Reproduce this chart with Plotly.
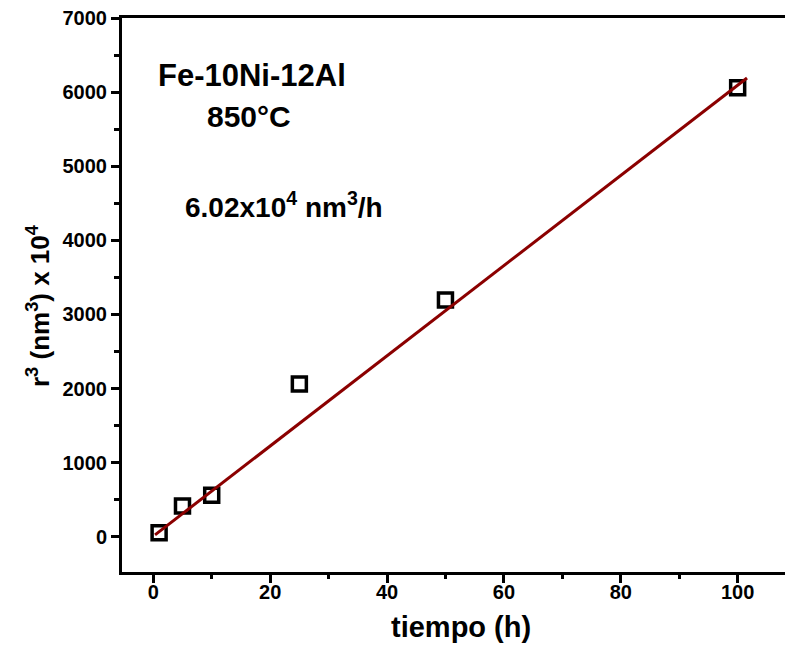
import plotly.graph_objects as go

# data
tiempo_h = [1, 5, 10, 25, 50, 100]
r3_values = [55, 415, 560, 2060, 3195, 6060]
fit_x = [0.3, 101.6]
fit_y = [25, 6190]
x_ticks = [0, 20, 40, 60, 80, 100]
y_ticks = [0, 1000, 2000, 3000, 4000, 5000, 6000, 7000]

FONT = "Liberation Sans, Arial, sans-serif"
W, H = 785, 645
L, R, T, B = 122, 0, 18, 73

fig = go.Figure()
fig.add_trace(go.Scatter(
    x=tiempo_h, y=r3_values, mode="markers",
    marker=dict(symbol="square-open", size=14, color="black", line=dict(width=3.5, color="black")),
    showlegend=False,
))
fig.add_trace(go.Scatter(
    x=fit_x, y=fit_y, mode="lines",
    line=dict(color="#8b0000", width=3), showlegend=False,
))

fig.update_layout(
    width=W, height=H,
    margin=dict(l=L, r=R, t=T, b=B, autoexpand=False),
    paper_bgcolor="white", plot_bgcolor="white",
    font=dict(family=FONT, color="black", size=19),
)
fig.update_xaxes(
    range=[-5.35, 108.1], showgrid=False, zeroline=False, automargin=False,
    showline=True, linecolor="black", linewidth=3, mirror=True,
    tickmode="array", tickvals=x_ticks, ticktext=[f"<b>{v}</b>" for v in x_ticks],
    ticks="outside", ticklen=8, tickwidth=3, tickcolor="black",
    tickfont=dict(size=20, family=FONT, color="black"), ticklabelstandoff=-8,
    minor=dict(dtick=10, tick0=0, ticks="outside", ticklen=4, tickwidth=3, tickcolor="black"),
)
fig.update_yaxes(
    range=[-476, 7000], showgrid=False, zeroline=False, automargin=False,
    showline=True, linecolor="black", linewidth=3, mirror=False,
    tickmode="array", tickvals=y_ticks, ticktext=[f"<b>{v}</b>" for v in y_ticks],
    ticks="outside", ticklen=8, tickwidth=3, tickcolor="black",
    tickfont=dict(size=20, family=FONT, color="black"),
    minor=dict(dtick=500, tick0=0, ticks="outside", ticklen=5, tickwidth=3, tickcolor="black"),
)

pw, ph = W - L - R, H - T - B

def px_x(p):
    return (p - L) / pw

def px_y(p):
    return (H - B - p) / ph

# axis titles
fig.add_annotation(x=px_x(461), xref="paper", y=px_y(627), yref="paper",
                   text="<b>tiempo (h)</b>", showarrow=False,
                   font=dict(size=29, family=FONT, color="black"), xanchor="center", yanchor="middle")
fig.add_annotation(x=px_x(38), xref="paper", y=px_y(306), yref="paper",
                   text="<b>r<sup>3</sup> (nm<sup>3</sup>) x 10<sup>4</sup></b>", showarrow=False,
                   textangle=-90, font=dict(size=26, family=FONT, color="black"),
                   xanchor="center", yanchor="middle")

ann_font = dict(size=31, family=FONT, color="black")
fig.add_annotation(x=px_x(252), xref="paper", y=px_y(75), yref="paper", text="<b>Fe-10Ni-12Al</b>",
                   showarrow=False, font=ann_font, xanchor="center", yanchor="middle")
fig.add_annotation(x=px_x(249), xref="paper", y=px_y(117), yref="paper", text="<b>850°C</b>",
                   showarrow=False, font=dict(size=30, family=FONT, color="black"),
                   xanchor="center", yanchor="middle")
fig.add_annotation(x=px_x(284), xref="paper", y=px_y(205), yref="paper",
                   text="<b>6.02x10<sup>4</sup> nm<sup>3</sup>/h</b>",
                   showarrow=False, font=dict(size=28, family=FONT, color="black"),
                   xanchor="center", yanchor="middle")

fig.write_html("out.html", config={"displayModeBar": False},
               post_script="document.body.style.margin='0';document.body.style.overflow='hidden';")
